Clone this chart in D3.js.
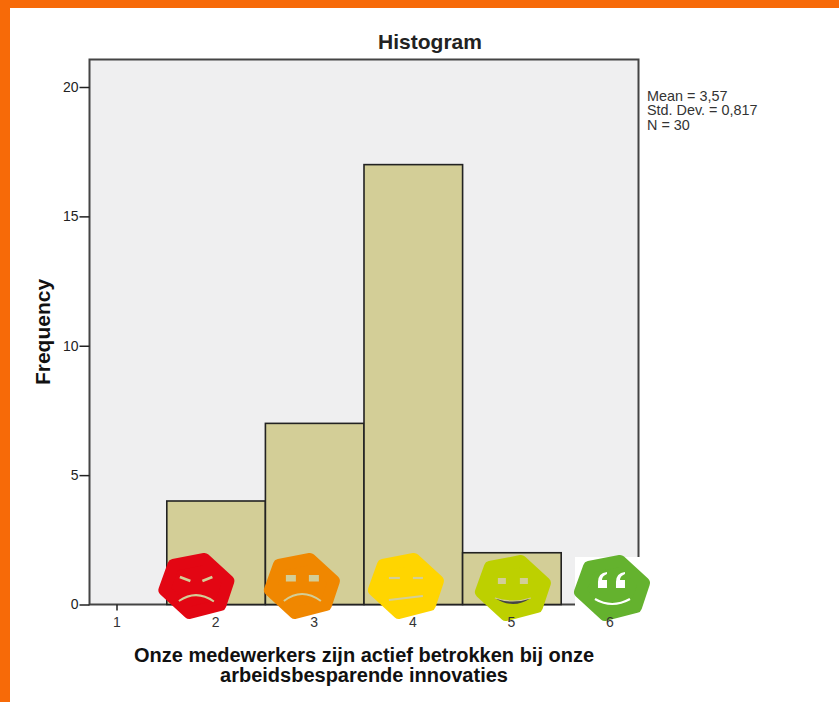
<!DOCTYPE html>
<html><head><meta charset="utf-8">
<script src="https://cdn.jsdelivr.net/npm/d3@7/dist/d3.min.js"></script>
<style>html,body{margin:0;padding:0;background:#fff}svg{display:block}text{font-family:"Liberation Sans",Arial,sans-serif}</style>
</head><body><svg id="c" width="839" height="702"></svg>
<script>
const binCenters=[2,3,4,5];
const frequencies=[4,7,17,2];
const xTicks=[1,2,3,4,5,6];
const yTicks=[0,5,10,15,20];
const statLines=["Mean = 3,57","Std. Dev. = 0,817","N = 30"];
const xTitleLines=["Onze medewerkers zijn actief betrokken bij onze","arbeidsbesparende innovaties"];
const faceKinds=["angry","sad","neutral","smile","happy"];
const faceColors=["#e30613","#f08700","#ffd500","#bdd000","#64b22e"];
const faceValues=[1.8,2.87,3.925,5.01,6.015];

const svg=d3.select("#c");
const x=d3.scaleLinear().domain([1,6]).range([117.5,610.5]);
const y=d3.scaleLinear().domain([0,20]).range([604.5,87]);
const plot={l:89.5,r:638.5,t:59.5,b:604.5};

svg.append("rect").attr("x",0).attr("y",0).attr("width",839).attr("height",8).attr("fill","#f76a08");
svg.append("rect").attr("x",0).attr("y",0).attr("width",10).attr("height",702).attr("fill","#f76a08");

svg.append("rect").attr("x",plot.l).attr("y",plot.t).attr("width",plot.r-plot.l).attr("height",plot.b-plot.t)
  .attr("fill","#efeff0").attr("stroke","#444").attr("stroke-width",2);

svg.selectAll("rect.bar").data(binCenters).join("rect").attr("class","bar")
  .attr("x",d=>x(d-.5)).attr("width",d=>x(d+.5)-x(d-.5))
  .attr("y",(d,i)=>y(frequencies[i])).attr("height",(d,i)=>y(0)-y(frequencies[i]))
  .attr("fill","#d3ce97").attr("stroke","#222").attr("stroke-width",1.6);

const yAxis=svg.append("g").attr("transform",`translate(${plot.l},0)`)
  .call(d3.axisLeft(y).tickValues(yTicks).tickFormat(d3.format("d")).tickSize(10).tickSizeOuter(0).tickPadding(1));
yAxis.select(".domain").remove();
yAxis.selectAll("line").attr("stroke","#222").attr("stroke-width",1.5);
yAxis.selectAll("text").attr("font-size",14).attr("fill","#222");

svg.append("text").attr("x",430).attr("y",49).attr("text-anchor","middle")
  .attr("font-size",21).attr("font-weight","bold").attr("fill","#222").text("Histogram");

svg.append("text").attr("transform","translate(50,332) rotate(-90)").attr("text-anchor","middle")
  .attr("font-size",21).attr("font-weight","bold").attr("fill","#111").text("Frequency");

svg.selectAll("text.xt").data(xTitleLines).join("text").attr("class","xt")
  .attr("x",364).attr("y",(d,i)=>662+i*20).attr("text-anchor","middle")
  .attr("font-size",20).attr("font-weight","bold").attr("fill","#111").text(d=>d);

svg.selectAll("text.st").data(statLines).join("text").attr("class","st")
  .attr("x",647).attr("y",(d,i)=>100.5+i*14.5).attr("font-size",14.4).attr("fill","#333").text(d=>d);

// white patch behind the last face, as pasted in the source image
svg.append("rect").attr("x",575).attr("y",557).attr("width",80).attr("height",62).attr("fill","#fff");

// faces
const hex="M-23,-21L8,-27L32,-5L24,19L-7,27L-32,4Z";
const faces=svg.selectAll("g.face").data(faceKinds).join("g").attr("class","face")
  .attr("transform",(d,i)=>`translate(${x(faceValues[i])},${i<3?586:588})`);
faces.append("path").attr("d",hex).attr("fill",(d,i)=>faceColors[i]).attr("stroke",(d,i)=>faceColors[i])
  .attr("stroke-width",12).attr("stroke-linejoin","round");
const fc="#d3ce97";
faces.each(function(k){
  const g=d3.select(this);
  const line=(d,w,col)=>g.append("path").attr("d",d).attr("fill","none").attr("stroke",col||fc).attr("stroke-width",w);
  if(k==="angry"){
    line("M-16.5,-9L-6,-5",2.8);line("M6,-5L16,-9",2.8);
    line("M-17.5,15Q0,3 17.5,15.5",2);
  } else if(k==="sad"){
    g.append("rect").attr("x",-16).attr("y",-11).attr("width",10).attr("height",6.5).attr("fill",fc);
    g.append("rect").attr("x",7).attr("y",-11).attr("width",10).attr("height",6.5).attr("fill",fc);
    line("M-18,15Q0,1 19,15",2);
  } else if(k==="neutral"){
    line("M-17,-8L-6,-8",2.2);line("M7,-8L17,-8",2.2);
    line("M-17,14L17,10",2.2);
  } else if(k==="smile"){
    g.append("rect").attr("x",-15).attr("y",-10).attr("width",8).attr("height",6).attr("fill",fc);
    g.append("rect").attr("x",7).attr("y",-10).attr("width",8).attr("height",6).attr("fill",fc);
    g.append("path").attr("d","M-18,10Q0,16 18,10Q0,22 -18,10Z").attr("fill","#444");
    line("M-18,10Q0,16 18,10",1.2);
  } else {
    const q=dx=>`M${dx},0L${dx+9},0L${dx+9},-8L${dx+4},-8Q${dx+4},-12 ${dx+9},-14L${dx+9},-16Q${dx},-15 ${dx},-6Z`;
    g.append("path").attr("d",q(-14)).attr("fill","#fff");
    g.append("path").attr("d",q(4)).attr("fill","#fff");
    line("M-17,11Q0,21 18,11",2.2,"#fff");
  }
});

// x tick labels sit above the pasted patch
const xAxis=svg.append("g").attr("transform",`translate(-1,${plot.b})`)
  .call(d3.axisBottom(x).tickValues(xTicks).tickFormat(d3.format("d")).tickSize(6).tickSizeOuter(0).tickPadding(7));
xAxis.select(".domain").remove();
xAxis.selectAll("line").attr("stroke",d=>d===1?"#222":"none").attr("stroke-width",1.5);
xAxis.selectAll("text").attr("font-size",14).attr("fill","#333");
</script></body></html>
